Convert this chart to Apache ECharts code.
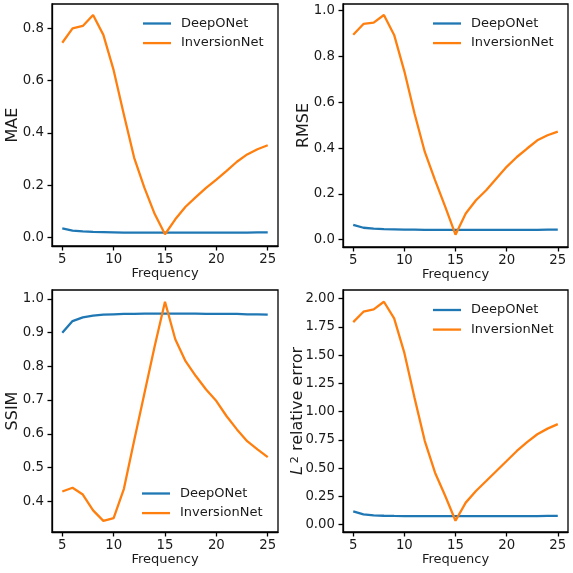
<!DOCTYPE html>
<html>
<head>
<meta charset="utf-8">
<script src="https://cdn.jsdelivr.net/npm/echarts@6/dist/echarts.min.js"></script>
<style>
html,body{margin:0;padding:0;background:#fff;}
#c{width:573px;height:573px;}
</style>
</head>
<body>
<div id="c"></div>
<script>
const freqs = [5,6,7,8,9,10,11,12,13,14,15,16,17,18,19,20,21,22,23,24,25];
const seriesNames = ['DeepONet','InversionNet'];
const xTicks = [5,10,15,20,25];

const maeDeep = [0.035,0.027,0.024,0.022,0.021,0.020,0.019,0.019,0.019,0.019,0.019,0.019,0.019,0.019,0.019,0.019,0.019,0.019,0.019,0.020,0.020];
const maeInv  = [0.745,0.800,0.809,0.851,0.775,0.640,0.470,0.305,0.190,0.090,0.013,0.070,0.118,0.155,0.190,0.222,0.255,0.290,0.318,0.338,0.353];

const rmseDeep = [0.065,0.052,0.048,0.046,0.045,0.044,0.044,0.043,0.043,0.043,0.043,0.043,0.043,0.043,0.043,0.043,0.043,0.043,0.043,0.044,0.044];
const rmseInv  = [0.895,0.942,0.948,0.981,0.894,0.735,0.550,0.383,0.260,0.143,0.022,0.114,0.172,0.216,0.267,0.318,0.361,0.398,0.434,0.456,0.472];

const ssimDeep = [0.899,0.934,0.945,0.950,0.953,0.954,0.955,0.955,0.956,0.956,0.956,0.956,0.956,0.956,0.955,0.955,0.955,0.955,0.954,0.954,0.953];
const ssimInv  = [0.429,0.440,0.420,0.373,0.342,0.350,0.437,0.580,0.720,0.860,0.991,0.880,0.815,0.771,0.731,0.697,0.652,0.613,0.578,0.554,0.531];

const l2Deep = [0.118,0.091,0.083,0.079,0.077,0.076,0.076,0.076,0.076,0.076,0.076,0.076,0.076,0.076,0.076,0.076,0.076,0.076,0.076,0.077,0.077];
const l2Inv  = [1.793,1.885,1.906,1.973,1.826,1.520,1.120,0.740,0.460,0.254,0.035,0.195,0.298,0.386,0.475,0.563,0.652,0.730,0.800,0.850,0.890];

const maeTicks = [0,0.2,0.4,0.6,0.8];
const rmseTicks = [0,0.2,0.4,0.6,0.8,1.0];
const ssimTicks = [0.4,0.5,0.6,0.7,0.8,0.9,1.0];
const l2Ticks = [0,0.25,0.5,0.75,1.0,1.25,1.5,1.75,2.0];

const FONT = 'DejaVu Sans';
const BLUE = '#1f77b4', ORANGE = '#ff7f0e';
const TXT = '#1a1a1a';

const grids = [
  {left:52, top:4, width:226, height:242},
  {left:343, top:4, width:225, height:243},
  {left:52, top:290, width:226, height:242},
  {left:343, top:290, width:225, height:242}
];

function xAxis(i){
  return {
    type:'value', gridIndex:i, min:4, max:26,
    name:'Frequency', nameLocation:'middle', nameGap:21, nameMoveOverlap:false,
    nameTextStyle:{fontFamily:FONT, fontSize:13, color:TXT, verticalAlign:'top'},
    axisLine:{show:true, onZero:false, lineStyle:{color:'#000', width:1.3}},
    axisTick:{show:true, customValues:xTicks, length:4.5, lineStyle:{color:'#000', width:1.3}},
    axisLabel:{customValues:xTicks, margin:7, fontFamily:FONT, fontSize:13.3, color:TXT},
    splitLine:{show:false}
  };
}
function yAxis(i, name, min, max, ticks, dec, gap, rich){
  const o = {
    type:'value', gridIndex:i, min:min, max:max,
    name:name, nameLocation:'middle', nameGap:gap, nameRotate:90, nameMoveOverlap:false,
    nameTextStyle:{fontFamily:FONT, fontSize:16, color:TXT},
    axisLine:{show:true, onZero:false, lineStyle:{color:'#000', width:1.3}},
    axisTick:{show:true, customValues:ticks, length:4.5, lineStyle:{color:'#000', width:1.3}},
    axisLabel:{customValues:ticks, margin:8, fontFamily:FONT, fontSize:13.3, color:TXT,
      formatter: v => Number(v).toFixed(dec)},
    splitLine:{show:false}
  };
  if (rich) o.nameTextStyle.rich = rich;
  return o;
}
function pairs(arr){ return freqs.map((f,k)=>[f, arr[k]]); }
function line(i, name, arr, color){
  return {
    type:'line', name:name, xAxisIndex:i, yAxisIndex:i, data:pairs(arr),
    symbol:'none', lineStyle:{color:color, width:2.3}, itemStyle:{color:color},
    emphasis:{disabled:true}, silent:true
  };
}
function legend(left, top){
  return {
    orient:'vertical', left:left, top:top, padding:0,
    icon:'rect', itemWidth:28, itemHeight:2.3, itemGap:6.6,
    textStyle:{fontFamily:FONT, fontSize:13, color:TXT, padding:[0,0,0,5]},
    data:seriesNames, selectedMode:false
  };
}

const l2Rich = {
  i:{fontFamily:FONT, fontStyle:'italic', fontSize:16, color:TXT},
  s:{fontFamily:FONT, fontSize:11, color:TXT, verticalAlign:'top', padding:[0,0,0,3]},
  n:{fontFamily:FONT, fontSize:16, color:TXT}
};

const option = {
  animation:false,
  backgroundColor:'#fff',
  grid: grids.map(g => Object.assign({show:true, borderColor:'#000', borderWidth:1.3, backgroundColor:'transparent'}, g)),
  xAxis:[xAxis(0), xAxis(1), xAxis(2), xAxis(3)],
  yAxis:[
    yAxis(0,'MAE',-0.032,0.893,maeTicks,1,31),
    yAxis(1,'RMSE',-0.032,1.029,rmseTicks,1,31),
    yAxis(2,'SSIM',0.309,1.026,ssimTicks,1,31),
    yAxis(3,'{i|L}{s|2}{n| relative error}',-0.065,2.077,l2Ticks,2,37,l2Rich)
  ],
  legend:[legend(143,17), legend(433,17), legend(142,487), legend(433,303.5)],
  series:[
    line(0,'DeepONet',maeDeep,BLUE), line(0,'InversionNet',maeInv,ORANGE),
    line(1,'DeepONet',rmseDeep,BLUE), line(1,'InversionNet',rmseInv,ORANGE),
    line(2,'DeepONet',ssimDeep,BLUE), line(2,'InversionNet',ssimInv,ORANGE),
    line(3,'DeepONet',l2Deep,BLUE), line(3,'InversionNet',l2Inv,ORANGE)
  ]
};
const chart = echarts.init(document.getElementById('c'), null, {renderer:'canvas'});
chart.setOption(option);
</script>
</body>
</html>
